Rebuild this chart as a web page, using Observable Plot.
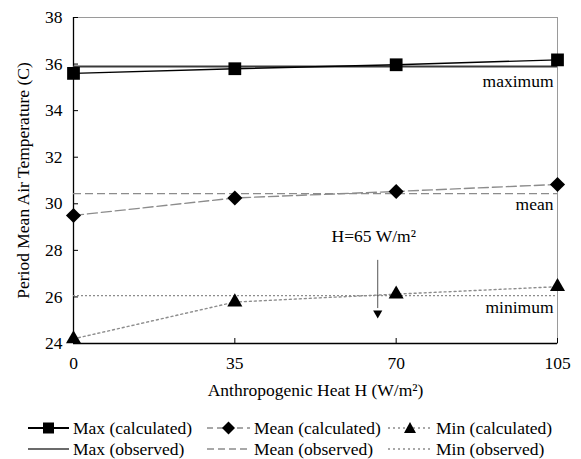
<!DOCTYPE html>
<html><head><meta charset="utf-8">
<script src="https://cdn.jsdelivr.net/npm/d3@7"></script>
<script src="https://cdn.jsdelivr.net/npm/@observablehq/plot@0.6"></script>
<style>
body{margin:0;background:#fff;font-family:"Liberation Serif","Times New Roman",Times,serif;}
#wrap{position:relative;width:581px;height:459px;overflow:hidden;}
#wrap svg.plot{display:block;}
.leg{position:absolute;font-size:17.5px;line-height:20px;height:20px;white-space:nowrap;color:#000;display:flex;align-items:center;font-family:"Liberation Serif","Times New Roman",Times,serif;}
.leg svg{display:block;}
</style></head><body><div id="wrap"></div>
<script>
// ---- data ----
const H = [0, 35, 70, 105];
const maxCalc = [35.6, 35.8, 35.97, 36.18];
const meanCalc = [29.5, 30.25, 30.53, 30.83];
const minCalc = [24.2, 25.78, 26.12, 26.44];
const maxObs = [35.9];
const meanObs = [30.44];
const minObs = [26.06];
const xTicks = [0, 35, 70, 105];
const yTicks = [24, 26, 28, 30, 32, 34, 36, 38];
const seriesNames = ["Max (calculated)", "Mean (calculated)", "Min (calculated)", "Max (observed)", "Mean (observed)", "Min (observed)"];
const curveLabels = ["maximum", "mean", "minimum"];
const curveLabelY = [35.25, 29.98, 25.56];
const markerH = [66];
const markerText = "H=65 W/m\u00B2";
const xTitle = "Anthropogenic Heat H (W/m\u00B2)";
const yTitle = "Period Mean Air Temperature (C)";

const rows = H.map((h, i) => ({h, max: maxCalc[i], mean: meanCalc[i], min: minCalc[i]}));
const labelRows = curveLabels.map((t, i) => ({t, y: curveLabelY[i]}));

const gray = "#8c8c8c";
const font = '"Liberation Serif", "Times New Roman", Times, serif';
const fs = 17.5;

const chart = Plot.plot({
  width: 581, height: 405,
  marginLeft: 73, marginRight: 24, marginTop: 17, marginBottom: 62,
  style: {fontFamily: font, fontSize: fs + "px", background: "#fff", color: "#000"},
  x: {domain: [0, 105]},
  y: {domain: [24, 38]},
  marks: [
    Plot.frame({stroke: "#9a9a9a", strokeWidth: 1}),
    Plot.ruleX([0], {stroke: "#000", strokeWidth: 1.3}),
    Plot.ruleY([24], {stroke: "#000", strokeWidth: 1.3}),
    Plot.axisY({ticks: yTicks, tickSize: 5, dx: 5, tickFormat: () => "", label: null, stroke: "#000"}),
    Plot.axisY({ticks: yTicks, tickSize: 0, tickPadding: 11, fontSize: fs, fontFamily: font, label: null}),
    Plot.axisX({ticks: xTicks, tickSize: 5, dy: -5, tickFormat: () => "", label: null, stroke: "#000"}),
    Plot.axisX({ticks: xTicks, tickSize: 0, tickPadding: 13, fontSize: fs, fontFamily: font, label: null}),
    Plot.text([xTitle], {frameAnchor: "bottom", x: () => 52.5, dy: 47, lineAnchor: "middle", fontSize: fs, fontFamily: font}),
    Plot.text([yTitle], {frameAnchor: "left", rotate: -90, dx: -50, textAnchor: "middle", lineAnchor: "middle", fontSize: fs, fontFamily: font}),
    // observed
    Plot.ruleY(maxObs, {stroke: "#3a3a3a", strokeWidth: 2}),
    Plot.ruleY(meanObs, {stroke: gray, strokeWidth: 1.2, strokeDasharray: "8,4"}),
    Plot.ruleY(minObs, {stroke: gray, strokeWidth: 1.2, strokeDasharray: "2,2"}),
    // calculated
    Plot.line(rows, {x: "h", y: "max", stroke: "#000", strokeWidth: 1.4}),
    Plot.line(rows, {x: "h", y: "mean", stroke: gray, strokeWidth: 1.4, strokeDasharray: "10,4"}),
    Plot.line(rows, {x: "h", y: "min", stroke: gray, strokeWidth: 1.4, strokeDasharray: "2,3"}),
    Plot.dot(rows, {x: "h", y: "max", symbol: "square", r: 7.2, fill: "#000", stroke: "none"}),
    Plot.dot(rows, {x: "h", y: "mean", symbol: "diamond2", r: 6.8, fill: "#000", stroke: "none"}),
    Plot.dot(rows, {x: "h", y: "min", symbol: "triangle", r: 5.6, fill: "#000", stroke: "none"}),
    // annotations
    Plot.text(labelRows, {x: () => 105, y: "y", text: "t", textAnchor: "end", dx: -4, fontSize: fs, fontFamily: font}),
    Plot.ruleX(markerH, {y1: 27.57, y2: 25.5, stroke: "#555", strokeWidth: 1}),
    Plot.dot(markerH, {x: d => d, y: () => 25.3, symbol: "triangle", rotate: 180, r: 3.4, fill: "#000", stroke: "none"}),
    Plot.text([markerText], {x: () => markerH[0], y: () => 28.6, dx: -4, fontSize: fs, fontFamily: font})
  ]
});
chart.classList.add("plot");
const wrap = document.getElementById("wrap");
wrap.appendChild(chart);

// ---- legend ----
const legendSamples = [
  {dash: null, stroke: "#000", sym: "square", w: 2},
  {dash: "6,4", stroke: gray, sym: "diamond", w: 1.4},
  {dash: "2,3", stroke: gray, sym: "triangle", w: 1.4},
  {dash: null, stroke: "#3a3a3a", sym: null, w: 1.6},
  {dash: "7,4", stroke: gray, sym: null, w: 1.4},
  {dash: "2,3", stroke: gray, sym: null, w: 1.4}
];
const colLeft = [28, 207, 388];
const colW = [41, 43, 44];
const rowTop = [418, 439];
seriesNames.forEach((name, i) => {
  const c = i % 3, r = Math.floor(i / 3);
  const s = legendSamples[i];
  const w = colW[c];
  const div = document.createElement("div");
  div.className = "leg";
  div.style.left = colLeft[c] + "px";
  div.style.top = rowTop[r] + "px";
  let sym = "";
  const cx = w / 2, cy = 10;
  if (s.sym === "square") sym = `<rect x="${cx-5.5}" y="${cy-5.5}" width="11" height="11" fill="#000"/>`;
  if (s.sym === "diamond") sym = `<path d="M${cx},${cy-6.5}L${cx+6.5},${cy}L${cx},${cy+6.5}L${cx-6.5},${cy}Z" fill="#000"/>`;
  if (s.sym === "triangle") sym = `<path d="M${cx},${cy-6}L${cx+6},${cy+5}L${cx-6},${cy+5}Z" fill="#000"/>`;
  div.innerHTML = `<svg width="${w}" height="20"><line x1="0" x2="${w}" y1="10" y2="10" stroke="${s.stroke}" stroke-width="${s.w}" ${s.dash ? `stroke-dasharray="${s.dash}"` : ""}/>${sym}</svg><span style="margin-left:4px">${name}</span>`;
  wrap.appendChild(div);
});
</script></body></html>
